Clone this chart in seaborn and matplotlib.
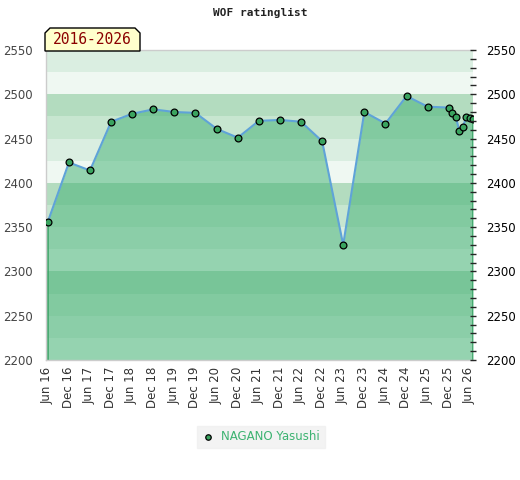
import matplotlib
matplotlib.use("Agg")
import matplotlib.pyplot as plt
from matplotlib.patches import Polygon
from matplotlib.ticker import MultipleLocator
import seaborn as sns
import pandas as pd

# rating list dates and values
dates = ["2016-06-07", "2016-12-07", "2017-06-07", "2017-12-07", "2018-06-07",
         "2018-12-07", "2019-06-07", "2019-12-07", "2020-06-07", "2020-12-07",
         "2021-06-07", "2021-12-07", "2022-06-07", "2022-12-07", "2023-06-07",
         "2023-12-07", "2024-06-07", "2024-12-07", "2025-06-07", "2025-12-07",
         "2026-01-07", "2026-02-07", "2026-03-07", "2026-04-07", "2026-05-07",
         "2026-06-07", "2026-07-07"]
ratings = [2356, 2423, 2414, 2469, 2478, 2483, 2480, 2479, 2461, 2451,
           2470, 2471, 2469, 2447, 2330, 2480, 2467, 2498, 2486, 2485,
           2479, 2474, 2459, 2463, 2474, 2473, 2472]
player = "NAGANO Yasushi"
period = "2016-2026"
title = "WOF ratinglist"

df = pd.DataFrame({"date": pd.to_datetime(dates), "rating": ratings})

sns.set_style("white")
W, H = 520, 480
fig = plt.figure(figsize=(W / 100, H / 100), dpi=100)
ax = fig.add_axes([45.5 / W, 1 - 360 / H, (473.3 - 45.5) / W, 310 / H])

# background bands, 25 points each
band_cols = {0: "#eff8f2", 25: "#daeee1", 50: "#c7e6d0", 75: "#b3dcbf"}
for lo in range(2200, 2550, 25):
    ax.axhspan(lo, lo + 25, color=band_cols[lo % 100], lw=0, zorder=0)

ax.fill_between(df["date"], df["rating"], 2200, color="#43b175", alpha=0.52,
                lw=0, zorder=1)
ax.plot([df["date"].iloc[0]] * 2, [2200, ratings[0]], color="#3aa366", lw=1.2, zorder=2)
ax.plot([df["date"].iloc[-1]] * 2, [2200, ratings[-1]], color="#3aa366", lw=1.2, zorder=2)

sns.lineplot(data=df, x="date", y="rating", ax=ax, color="#5fa3d8", lw=1.5,
             zorder=3, legend=False)
sns.scatterplot(data=df, x="date", y="rating", ax=ax, color="#3aa35f",
                edgecolor="black", linewidth=0.9, s=24, zorder=4, label=player,
                legend=False)

ax.set_ylim(2200, 2550)
ax.set_xlim(df["date"].iloc[0] - pd.Timedelta(days=20), df["date"].iloc[-1])
ax.set_xlabel("")
ax.set_ylabel("")

ticks = pd.date_range("2016-06-01", "2026-06-01", freq="6MS")
ax.set_xticks(ticks)
ax.set_xticklabels([t.strftime("%b %y") for t in ticks], rotation=90,
                   fontsize=8.5, color="#333333")
ax.tick_params(axis="x", length=0, pad=5)
ax.yaxis.set_major_locator(MultipleLocator(50))
ax.tick_params(axis="y", length=0, labelsize=8.5, labelcolor="#444444", pad=9)

for s in ["left", "bottom", "top"]:
    ax.spines[s].set_color("#cccccc")
    ax.spines[s].set_linewidth(1)
ax.spines["right"].set_visible(False)

ax2 = ax.twinx()
ax2.set_ylim(2200, 2550)
ax2.yaxis.set_major_locator(MultipleLocator(50))
ax2.yaxis.set_minor_locator(MultipleLocator(10))
ax2.tick_params(axis="y", which="both", direction="inout", length=4,
                width=1, labelsize=8.5, labelcolor="black", pad=7)
for s in ax2.spines.values():
    s.set_visible(False)

# period label box with beveled top corners
x0, x1, y0, y1, b = 45, 140, 51, 28, 5
pts = [(x0, y0), (x0, y1 + b), (x0 + b, y1), (x1 - b, y1), (x1, y1 + b), (x1, y0)]
poly = Polygon([(x / W, 1 - y / H) for x, y in pts], closed=True,
               transform=fig.transFigure, facecolor="#ffffcc", edgecolor="black",
               lw=1, zorder=5)
fig.add_artist(poly)
fig.text((x0 + x1) / 2 / W, 1 - 40 / H, period, ha="center", va="center",
         fontsize=10.5, color="#8b0000", family="DejaVu Sans Mono", zorder=6)

fig.text(260 / W, 1 - 13 / H, title, ha="center", va="center", fontsize=8,
         fontweight="bold", family="DejaVu Sans Mono", color="#222222")

h, l = ax.get_legend_handles_labels()
leg = fig.legend(h, l, loc="center", bbox_to_anchor=(261 / W, 1 - 437 / H),
                 frameon=True, fontsize=8.5, handletextpad=0.6, borderpad=0.4,
                 handlelength=1.0, fancybox=False, markerscale=0.8)
leg.get_frame().set_facecolor("#f0f0f0")
leg.get_frame().set_edgecolor("#f0f0f0")
for t in leg.get_texts():
    t.set_color("#3cb371")

fig.savefig("out.png", dpi=100)
